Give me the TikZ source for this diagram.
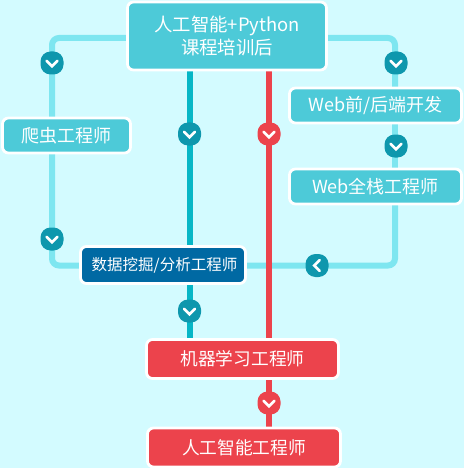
\documentclass[tikz,border=0pt]{standalone}
\usepackage{fontspec}
\setmainfont{Noto Sans CJK SC}
\usetikzlibrary{backgrounds}
\definecolor{bgc}{HTML}{D3FBFF}
\definecolor{boxc}{HTML}{4DCAD8}
\definecolor{linec}{HTML}{7EE6F0}
\definecolor{tealc}{HTML}{06B6C6}
\definecolor{badgec}{HTML}{0E97AD}
\definecolor{bluec}{HTML}{0069A3}
\definecolor{redc}{HTML}{EC434C}
\tikzset{
  card/.style={rectangle,rounded corners=6pt,draw=white,line width=2.8pt,outer sep=0pt,inner sep=0pt,
    text=white,align=center,anchor=center,font=\fontsize{18}{23}\selectfont},
  cyan card/.style={card,fill=boxc},
  blue card/.style={card,fill=bluec,font=\fontsize{15.5}{20}\selectfont},
  red card/.style={card,fill=redc,font=\fontsize{17.7}{23}\selectfont},
  badge/.style={rectangle,rounded corners=10pt,minimum width=23pt,minimum height=23pt,inner sep=0pt,outer sep=0pt,fill=badgec},
  red badge/.style={badge,fill=redc},
  chev/.style={draw=white,line width=2.6pt,line cap=round,line join=miter},
  lightline/.style={draw=linec,line width=6pt,rounded corners=7pt},
  tealline/.style={draw=tealc,line width=6pt},
  redline/.style={draw=redc,line width=6pt}
}
\newcommand{\chevdown}[1]{\draw[chev] ([shift={(-5.5,-2.2)}]#1.center) -- ([shift={(0,3.2)}]#1.center) -- ([shift={(5.5,-2.2)}]#1.center);}
\newcommand{\chevleft}[1]{\draw[chev] ([shift={(2.8,-5.5)}]#1.center) -- ([shift={(-2.8,0)}]#1.center) -- ([shift={(2.8,5.5)}]#1.center);}
\begin{document}
\begin{tikzpicture}[x=1pt,y=-1pt]
\useasboundingbox (0,0) rectangle (464,468);
% cards
\node[cyan card,minimum width=199pt,minimum height=68pt,font=\fontsize{18.4}{23}\selectfont] (top) at (227,36) {\raisebox{-1pt}{人工智能+Python}\\\raisebox{-1pt}{课程培训后}};
\node[cyan card,minimum width=128pt,minimum height=35pt] (spider) at (66.5,135.5) {爬虫工程师};
\node[cyan card,minimum width=172pt,minimum height=35pt] (webfe) at (375.5,105.5) {Web前/后端开发};
\node[cyan card,minimum width=172pt,minimum height=35pt] (webfs) at (375.5,186.5) {Web全栈工程师};
\node[blue card,minimum width=165pt,minimum height=37pt] (data) at (163,265) {\hspace{3pt}数据挖掘/分析工程师};
\node[red card,minimum width=192pt,minimum height=39pt] (ml) at (242.5,359) {机器学习工程师};
\node[red card,minimum width=193pt,minimum height=39pt] (ai) at (244,447.5) {人工智能工程师};
% corners of the light routes
\coordinate (tl) at (52,38);
\coordinate (tr) at (395,38);
\coordinate (bl) at (52,265.5);
\coordinate (br) at (395,265.5);
\coordinate (tealx) at (189.5,0);
\coordinate (redx) at (268.8,0);
% badges
\node[badge] (b1) at (52,63) {};
\node[badge] (b2) at (52,239) {};
\node[badge] (b3) at (396,63) {};
\node[badge] (b4) at (396,146) {};
\node[badge] (b5) at (317,265.5) {};
\node[badge] (b6) at (189.5,134) {};
\node[badge] (b7) at (189.5,311) {};
\node[red badge] (b8) at (269,134) {};
\node[red badge] (b9) at (269,403) {};
\chevdown{b1}\chevdown{b2}\chevdown{b3}\chevdown{b4}\chevleft{b5}\chevdown{b6}\chevdown{b7}\chevdown{b8}\chevdown{b9}
% connectors
\begin{pgfonlayer}{background}
\fill[bgc] (0,0) rectangle (464,468);
\path[lightline] (top.west |- tl) -- (tl) -- (spider.north -| tl);
\path[lightline] (spider.south -| tl) -- (bl) -- (data.west |- bl);
\path[lightline] (top.east |- tr) -- (tr) -- (webfe.north -| tr);
\path[lightline] (webfe.south -| tr) -- (webfs.north -| tr);
\path[lightline] (webfs.south -| tr) -- (br) -- (data.east |- br);
\path[tealline] (top.south -| tealx) -- (data.north -| tealx);
\path[tealline] (data.south -| tealx) -- (ml.north -| tealx);
\path[redline] (top.south -| redx) -- (ml.north -| redx);
\path[redline] (ml.south -| redx) -- (ai.north -| redx);
\end{pgfonlayer}
\end{tikzpicture}
\end{document}
